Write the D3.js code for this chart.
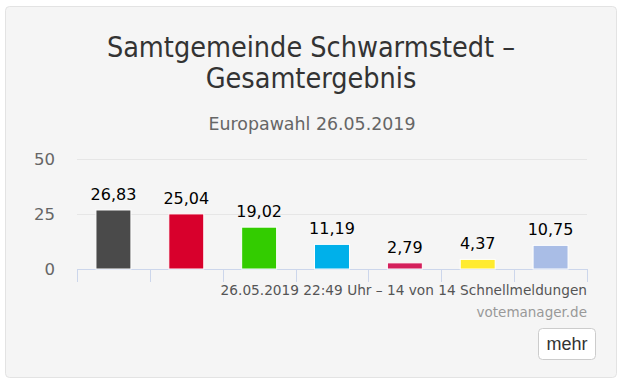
<!DOCTYPE html>
<html>
<head>
<meta charset="utf-8">
<script src="https://cdn.jsdelivr.net/npm/d3@7"></script>
<style>
  body { margin: 0; background: #fff; }
  svg text { font-family: "DejaVu Sans", sans-serif; }
</style>
</head>
<body>
<div id="chart"></div>
<script>
const parties = ["P1", "P2", "P3", "P4", "P5", "P6", "P7"];
const shares = [26.83, 25.04, 19.02, 11.19, 2.79, 4.37, 10.75];
const barColors = ["#4a4a4a", "#d8002c", "#33cc00", "#00b0ea", "#d41f5c", "#ffeb2e", "#a9bde6"];
const yTicks = [0, 25, 50];

const width = 623, height = 386;
const margin = { top: 159, right: 36, bottom: 117, left: 77 };

const svg = d3.select("#chart").append("svg")
    .attr("width", width)
    .attr("height", height);

// panel
svg.append("rect")
    .attr("x", 5.5).attr("y", 6.5)
    .attr("width", 611).attr("height", 371)
    .attr("rx", 4)
    .attr("fill", "#f5f5f5")
    .attr("stroke", "#e3e3e3");

const x = d3.scaleBand()
    .domain(parties)
    .range([margin.left, width - margin.right])
    .paddingInner(0.52)
    .paddingOuter(0.26);

const y = d3.scaleLinear()
    .domain([0, 50])
    .range([height - margin.bottom, margin.top]);

// grid + y labels
svg.append("g")
    .selectAll("line")
    .data(yTicks.filter(d => d > 0))
    .join("line")
    .attr("x1", margin.left).attr("x2", width - margin.right)
    .attr("y1", d => Math.round(y(d)) + 0.5).attr("y2", d => Math.round(y(d)) + 0.5)
    .attr("stroke", "#e6e6e6");

svg.append("g")
    .selectAll("text")
    .data(yTicks)
    .join("text")
    .attr("x", 55)
    .attr("y", d => y(d) + 6)
    .attr("text-anchor", "end")
    .attr("fill", "#666")
    .style("font-size", "16.5px")
    .text(d => d);

// x axis
const band = (width - margin.right - margin.left) / parties.length;
const tickX = d3.range(parties.length + 1).map(i => margin.left + i * band);
svg.append("line")
    .attr("x1", margin.left).attr("x2", width - margin.right + 1)
    .attr("y1", y(0) + 0.5).attr("y2", y(0) + 0.5)
    .attr("stroke", "#ccd6eb");
svg.append("g")
    .selectAll("line")
    .data(tickX)
    .join("line")
    .attr("x1", d => Math.round(d) + 0.5).attr("x2", d => Math.round(d) + 0.5)
    .attr("y1", y(0)).attr("y2", y(0) + 13)
    .attr("stroke", "#ccd6eb");

// bars
svg.append("g")
    .selectAll("rect")
    .data(parties)
    .join("rect")
    .attr("x", d => x(d))
    .attr("y", (d, i) => y(shares[i]))
    .attr("width", x.bandwidth())
    .attr("height", (d, i) => y(0) - y(shares[i]))
    .attr("fill", (d, i) => barColors[i])
    .attr("stroke", "#fff")
    .attr("stroke-width", 1);

// value labels
svg.append("g")
    .selectAll("text")
    .data(parties)
    .join("text")
    .attr("x", d => x(d) + x.bandwidth() / 2)
    .attr("y", (d, i) => y(shares[i]) - 10)
    .attr("text-anchor", "middle")
    .attr("fill", "#000")
    .style("font-size", "16px")
    .text((d, i) => shares[i].toFixed(2).replace(".", ","));

// titles
const title = svg.append("text")
    .attr("text-anchor", "middle")
    .attr("fill", "#333")
    .style("font-family", "'DejaVu Sans Condensed', 'DejaVu Sans', sans-serif")
    .style("font-size", "28.5px");
title.append("tspan").attr("x", 311).attr("y", 57).text("Samtgemeinde Schwarmstedt –");
title.append("tspan").attr("x", 311).attr("y", 88).text("Gesamtergebnis");

svg.append("text")
    .attr("x", 312).attr("y", 130)
    .attr("text-anchor", "middle")
    .attr("fill", "#666")
    .style("font-size", "17.4px")
    .text("Europawahl 26.05.2019");

// footer
svg.append("text")
    .attr("x", width - margin.right).attr("y", 295)
    .attr("text-anchor", "end")
    .attr("fill", "#555")
    .style("font-size", "13.7px")
    .text("26.05.2019 22:49 Uhr – 14 von 14 Schnellmeldungen");

svg.append("text")
    .attr("x", width - margin.right).attr("y", 317)
    .attr("text-anchor", "end")
    .attr("fill", "#999")
    .style("font-size", "13.5px")
    .text("votemanager.de");

// button
svg.append("rect")
    .attr("x", 538.5).attr("y", 328.5)
    .attr("width", 57).attr("height", 31)
    .attr("rx", 4)
    .attr("fill", "#fff")
    .attr("stroke", "#cccccc");
svg.append("text")
    .attr("x", 567).attr("y", 350)
    .attr("text-anchor", "middle")
    .attr("fill", "#333")
    .style("font-family", "'Liberation Sans', Arial, sans-serif")
    .style("font-size", "18px")
    .text("mehr");
</script>
</body>
</html>
